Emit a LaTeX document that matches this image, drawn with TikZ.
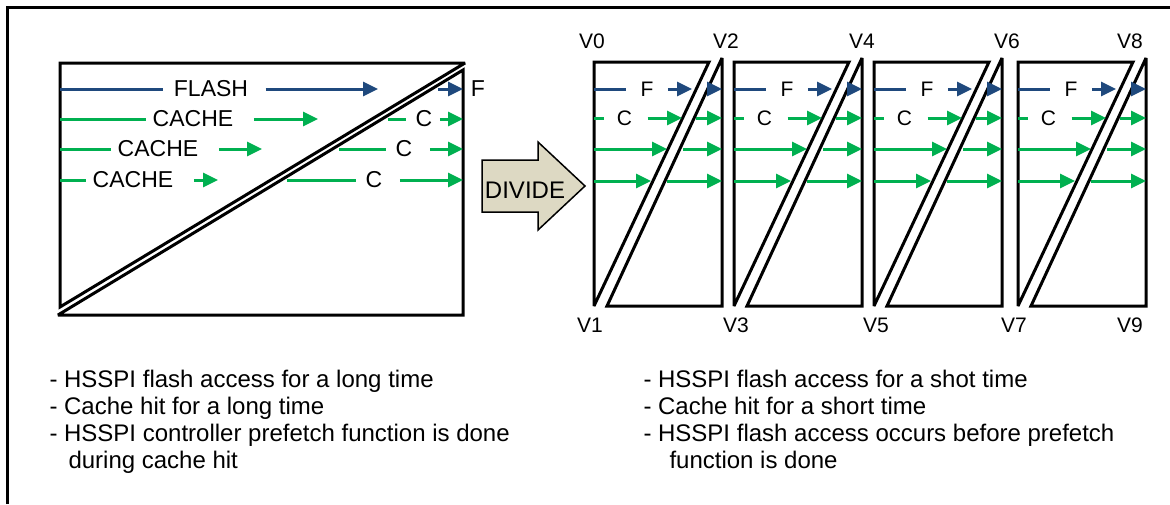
\documentclass[tikz,border=0pt]{standalone}
\usepackage{fontspec}
\setmainfont{Liberation Sans}
\usetikzlibrary{arrows.meta}
\definecolor{flashblue}{RGB}{31,73,125}
\definecolor{cachegreen}{RGB}{0,176,80}
\definecolor{dividefill}{RGB}{221,217,195}
\tikzset{
  boxline/.style={draw=black, line width=3pt, line join=miter, miter limit=3},
  flashline/.style={draw=flashblue, line width=3pt},
  flasharrow/.style={flashline, -{Triangle[length=15pt,width=14pt]}},
  cacheline/.style={draw=cachegreen, line width=3pt},
  cachearrow/.style={cacheline, -{Triangle[length=15pt,width=14pt]}},
  lbl/.style={font=\fontsize{23}{27}\selectfont, inner sep=0pt},
  lbls/.style={font=\fontsize{21}{25}\selectfont, inner sep=0pt},
  vlbl/.style={font=\fontsize{21}{25}\selectfont, inner sep=0pt},
  note/.style={font=\fontsize{24}{27}\selectfont, align=left, anchor=north west, inner sep=0pt},
}

\begin{document}
\begin{tikzpicture}[x=1pt, y=-1pt, line width=3pt]
  \useasboundingbox (0,0) rectangle (1170,504);
  % Outer frame, cut at right and bottom.
  \draw (7.5,504) -- (7.5,7.5) -- (1170,7.5);
  % Long access block, split in two triangles.
  \draw[boxline] (60,63) -- (465,63) -- (60,307) -- cycle;
  \draw[boxline] (463,70) -- (463,315) -- (58,315) -- cycle;
  % FLASH row.
  \coordinate (fla) at (60,89);
  \node[lbl] (flash) at (211,89) {FLASH};
  \coordinate (flb) at (378,89);
  \draw[flashline] (fla) -- ([xshift=-9]flash.west);
  \draw[flasharrow] ([xshift=16]flash.east) -- (flb);
  % CACHE rows.
  \foreach \y/\cx/\tip/\n in {119/193/318/1, 149/158/262/2, 180/133/218/3} {
    \coordinate (ca\n a) at (60,\y);
    \node[lbl] (ca\n) at (\cx,\y) {CACHE};
    \coordinate (ca\n b) at (\tip,\y);
    \draw[cacheline] (ca\n a) -- ([xshift=-5]ca\n.west);
    \draw[cachearrow] ([xshift=19]ca\n.east) -- (ca\n b);
  }
  % Lower triangle: F and C rows.
  \coordinate (rfa) at (438,89);
  \coordinate (rfb) at (463,89);
  \draw[flasharrow] (rfa) -- (rfb);
  \node[lbl] (rf) at (478,89) {F};
  \foreach \y/\st/\cx/\gap/\n in {119/388/424/6/1, 149/339/404/16/2, 180/287/374/16/3} {
    \coordinate (rc\n a) at (\st,\y);
    \node[lbl] (rc\n) at (\cx,\y) {C};
    \coordinate (rc\n b) at (463,\y);
    \draw[cacheline] (rc\n a) -- ([xshift=-8]rc\n.west);
    \draw[cachearrow] ([xshift=\gap]rc\n.east) -- (rc\n b);
  }
  % DIVIDE arrow.
  \draw[boxline, fill=dividefill, line width=1.5pt]
    (482,160) -- (538,160) -- (538,142) -- (585,186) -- (538,230)
    -- (538,212) -- (482,212) -- cycle;
  \node[lbl, font=\fontsize{24}{27}\selectfont] (divide) at (525,190) {DIVIDE};
  % Divided blocks.
  \foreach \L [count=\i] in {594,734,874,1018} {
    \draw[boxline] (\L,62) -- (\L+115,62) -- (\L,306) -- cycle;
    \draw[boxline] (\L+128,58) -- (\L+128,306) -- (\L+13,306) -- cycle;
    % F row
    \coordinate (f\i a) at (\L,89);
    \node[lbls] (f\i) at (\L+53,89) {F};
    \coordinate (f\i b) at (\L+98,89);
    \coordinate (f\i c) at (\L+113,89);
    \coordinate (f\i d) at (\L+128,89);
    \draw[flashline] (f\i a) -- ([xshift=-13]f\i.west);
    \draw[flasharrow] ([xshift=13]f\i.east) -- (f\i b);
    \draw[flasharrow] (f\i c) -- (f\i d);
    % C row
    \coordinate (c\i a) at (\L,118);
    \node[lbls] (c\i) at (\L+30.5,118) {C};
    \coordinate (c\i b) at (\L+88,118);
    \coordinate (c\i c) at (\L+102,118);
    \coordinate (c\i d) at (\L+128,118);
    \draw[cacheline] (c\i a) -- ([xshift=-11]c\i.west);
    \draw[cachearrow] ([xshift=14]c\i.east) -- (c\i b);
    \draw[cachearrow] (c\i c) -- (c\i d);
    % plain cache rows
    \coordinate (g\i a) at (\L,149);
    \coordinate (g\i b) at (\L+73,149);
    \coordinate (g\i c) at (\L+89,149);
    \coordinate (g\i d) at (\L+128,149);
    \draw[cachearrow] (g\i a) -- (g\i b);
    \draw[cachearrow] (g\i c) -- (g\i d);
    \coordinate (h\i a) at (\L,181);
    \coordinate (h\i b) at (\L+57,181);
    \coordinate (h\i c) at (\L+73,181);
    \coordinate (h\i d) at (\L+128,181);
    \draw[cachearrow] (h\i a) -- (h\i b);
    \draw[cachearrow] (h\i c) -- (h\i d);
  }
  % Vertex labels.
  \foreach \x/\n in {592/0, 726/2, 862/4, 1007/6, 1130/8}
    \node[vlbl] (v\n) at (\x,41) {V\n};
  \foreach \x/\n in {590/1, 736/3, 876/5, 1014/7, 1130/9}
    \node[vlbl] (v\n) at (\x,325) {V\n};
  % Notes.
  \node[note] (notel) at (48,369) {- HSSPI flash access for a long time\\
    - Cache hit for a long time\\
    - HSSPI controller prefetch function is done\\
    \hspace*{19pt}during cache hit};
  \node[note] (noter) at (642,369) {- HSSPI flash access for a shot time\\
    - Cache hit for a short time\\
    - HSSPI flash access occurs before prefetch\\
    \hspace*{26pt}function is done};
\end{tikzpicture}
\end{document}
